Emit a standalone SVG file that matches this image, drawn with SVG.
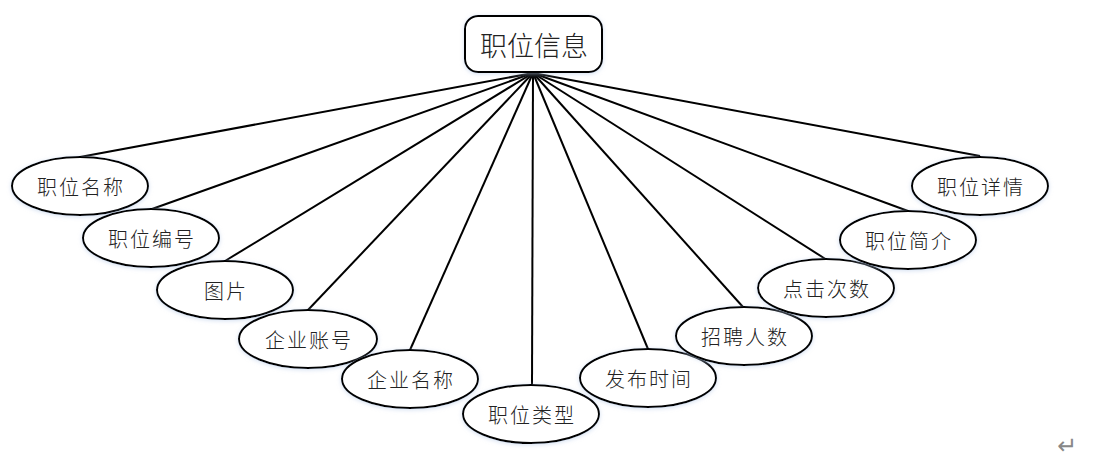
<svg xmlns="http://www.w3.org/2000/svg" width="1098" height="468" viewBox="0 0 1098 468">
<defs>
<filter id="glow" x="-10%" y="-20%" width="120%" height="140%">
<feDropShadow dx="0" dy="1" stdDeviation="2" flood-color="#b8cce8" flood-opacity="0.6"/>
</filter>
<style>
.e{fill:#fff;stroke:#000;stroke-width:2;filter:url(#glow)}
.t{font-family:"Noto Sans CJK SC","Noto Sans CJK JP",sans-serif;font-size:20px;font-weight:300;fill:#222;text-anchor:middle;dominant-baseline:central;letter-spacing:2px}
.c line{stroke:#000;stroke-width:2}
</style>
</defs>
<rect width="1098" height="468" fill="#fff"/>
<g class="c" id="connectors">
<line x1="533" y1="73" x2="80" y2="157"/>
<line x1="533" y1="73" x2="152" y2="209"/>
<line x1="533" y1="73" x2="225" y2="261"/>
<line x1="533" y1="73" x2="308" y2="310"/>
<line x1="533" y1="73" x2="410" y2="350"/>
<line x1="533" y1="73" x2="532" y2="385"/>
<line x1="533" y1="73" x2="648" y2="349"/>
<line x1="533" y1="73" x2="743" y2="307"/>
<line x1="533" y1="73" x2="827" y2="260"/>
<line x1="533" y1="73" x2="908" y2="211"/>
<line x1="533" y1="73" x2="980" y2="156"/>
</g>
<g id="root">
<rect x="465" y="16" width="137" height="56" rx="13" class="e"/>
<text x="534" y="44" class="t" style="font-size:27px;letter-spacing:0px">职位信息</text>
</g>
<g id="n1"><ellipse cx="80" cy="186" rx="68" ry="29" class="e"/><text x="81" y="186" class="t">职位名称</text></g>
<g id="n2"><ellipse cx="151" cy="238" rx="68" ry="29" class="e"/><text x="152" y="238" class="t">职位编号</text></g>
<g id="n3"><ellipse cx="225" cy="290" rx="68" ry="29" class="e"/><text x="226" y="290" class="t">图片</text></g>
<g id="n4"><ellipse cx="308" cy="339" rx="69" ry="29" class="e"/><text x="309" y="339" class="t">企业账号</text></g>
<g id="n5"><ellipse cx="410" cy="379" rx="68" ry="29" class="e"/><text x="411" y="379" class="t">企业名称</text></g>
<g id="n6"><ellipse cx="531" cy="414" rx="68" ry="29" class="e"/><text x="532" y="414" class="t">职位类型</text></g>
<g id="n7"><ellipse cx="648" cy="378" rx="68" ry="29" class="e"/><text x="649" y="378" class="t">发布时间</text></g>
<g id="n8"><ellipse cx="744" cy="336" rx="68" ry="29" class="e"/><text x="745" y="336" class="t">招聘人数</text></g>
<g id="n9"><ellipse cx="826" cy="288" rx="68" ry="29" class="e"/><text x="827" y="288" class="t">点击次数</text></g>
<g id="n10"><ellipse cx="908" cy="240" rx="68" ry="29" class="e"/><text x="909" y="240" class="t">职位简介</text></g>
<g id="n11"><ellipse cx="980" cy="186" rx="68" ry="29" class="e"/><text x="981" y="186" class="t">职位详情</text></g>
<text x="1067" y="446" style="font-family:'DejaVu Sans',sans-serif;font-size:24px;fill:#888;text-anchor:middle;dominant-baseline:central">↵</text>
</svg>
